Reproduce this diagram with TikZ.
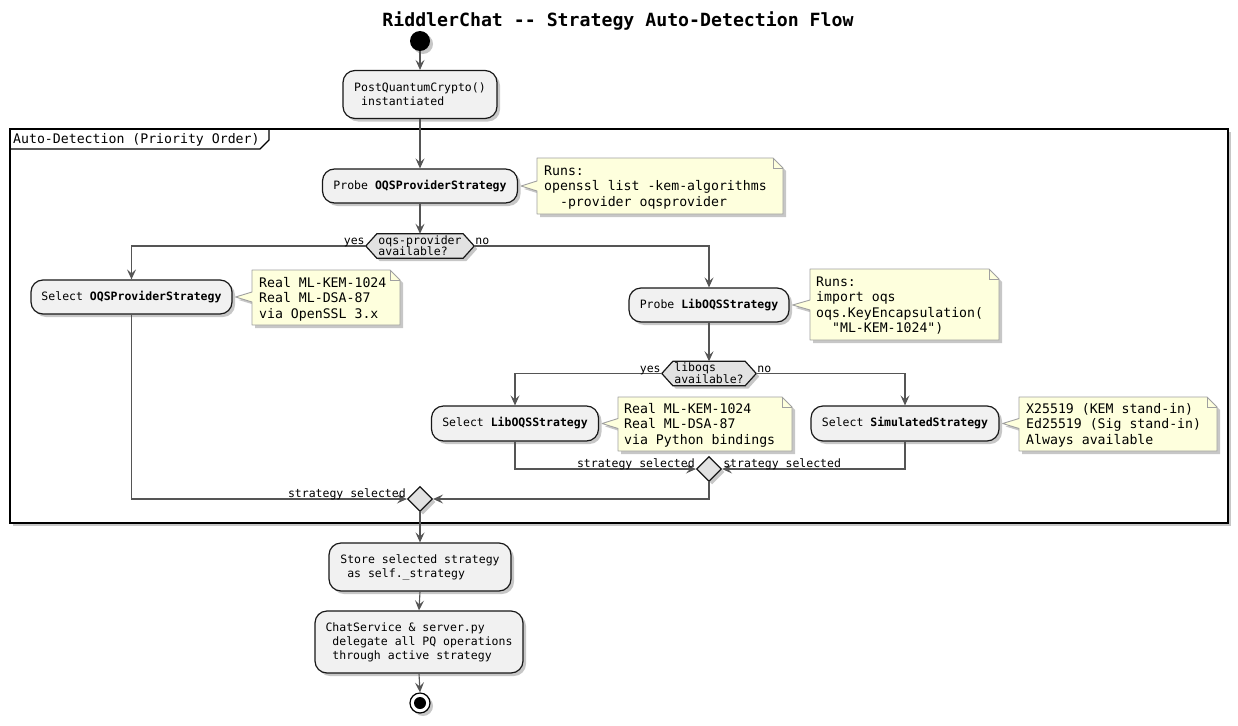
\documentclass[tikz,border=0pt]{standalone}
\usepackage{fontspec}
\setmonofont{DejaVu Sans Mono}
\usetikzlibrary{arrows.meta,shapes.geometric,shadows,calc}
\definecolor{boxfill}{HTML}{F1F1F1}
\definecolor{boxline}{HTML}{181818}
\definecolor{conncol}{HTML}{555555}
\definecolor{hexfill}{HTML}{E2E2E2}
\definecolor{notefill}{HTML}{FEFFDD}
\definecolor{noteline}{HTML}{A0A0A0}
\begin{document}
\begin{tikzpicture}[x=1pt,y=-1pt,
  shad/.style={drop shadow={shadow xshift=3pt,shadow yshift=-3pt,opacity=0.22,fill=black}},
  act/.style={draw=boxline,line width=1.2pt,fill=boxfill,rounded corners=12pt,inner sep=0pt,align=left,
    font=\ttfamily\fontsize{11.5}{14}\selectfont,shad},
  flow/.style={draw=conncol,line width=1.1pt,-{Stealth[length=10pt,width=9pt,inset=4pt,fill=conncol]}},
  plain/.style={draw=conncol,line width=1.1pt},
  hexst/.style={draw=boxline,line width=1.2pt,fill=hexfill,shad},
  hexbox/.style={inner sep=0pt,minimum height=24pt},
  hextext/.style={inner sep=0pt,align=left,font=\ttfamily\fontsize{11.5}{11.5}\selectfont},
  lbl/.style={inner sep=0pt,font=\ttfamily\fontsize{11.5}{14}\selectfont},
  notest/.style={draw=noteline,line width=0.9pt,fill=notefill,line join=round,shad},
  notefold/.style={draw=noteline,line width=0.9pt},
  notetext/.style={anchor=north west,inner sep=0pt,align=left,font=\ttfamily\fontsize{13.2}{15.5}\selectfont},
  merge/.style={diamond,draw=boxline,line width=1.2pt,fill=hexfill,minimum width=25pt,minimum height=25pt,inner sep=0pt,shad}
]
\fill[white] (0,0) rectangle (1238,725);
\path[use as bounding box] (0,0) rectangle (1238,725);

% title
\node[inner sep=0pt,anchor=base,font=\ttfamily\bfseries\fontsize{18.2}{20}\selectfont] (title) at (618,27) {RiddlerChat -{}- Strategy Auto-Detection Flow};

% frame
\path[draw=black,line width=2pt,fill=white,shad] (10,129) rectangle (1228,523);
\draw[line width=1.2pt] (10,149) -- (260,149) -- (269,140) -- (269,129);
\node[inner sep=0pt,anchor=base west,font=\ttfamily\fontsize{13.2}{15}\selectfont] (framelbl) at (13,143.5) {Auto-Detection (Priority Order)};

% start / end
\node[circle,fill=black,minimum size=20pt,inner sep=0pt,shad] (start) at (420,41) {};
\node[circle,draw=black,line width=1.2pt,fill=white,minimum size=20pt,inner sep=0pt,shad] (end) at (420,703) {};
\fill[black] (end.center) circle[radius=6pt];

% activities
\node[act,minimum width=154pt,minimum height=48pt] (box1) at (420,94.5) {PostQuantumCrypto()\\~instantiated};
\node[act,minimum width=195pt,minimum height=34pt] (probe1) at (420,186) {Probe \textbf{OQSProviderStrategy}};
\node[act,minimum width=201pt,minimum height=34pt] (sel1) at (131.5,297) {Select \textbf{OQSProviderStrategy}};
\node[act,minimum width=160pt,minimum height=34pt] (probe2) at (709,305) {Probe \textbf{LibOQSStrategy}};
\node[act,minimum width=167pt,minimum height=35pt] (sel2) at (515,423.5) {Select \textbf{LibOQSStrategy}};
\node[act,minimum width=188pt,minimum height=35pt] (sel3) at (905,423.5) {Select \textbf{SimulatedStrategy}};
\node[act,minimum width=182pt,minimum height=48pt] (store) at (420,567) {Store selected strategy\\~as self.\_strategy};
\node[act,minimum width=208pt,minimum height=62pt] (chat) at (419,642) {ChatService \& server.py\\~delegate all PQ operations\\~through active strategy};

% decisions
\node[hexbox,minimum width=108pt] (d1) at (420,246) {};
\path[hexst] (d1.west) -- ($(d1.north west)+(11,0)$) -- ($(d1.north east)+(-11,0)$) -- (d1.east) -- ($(d1.south east)+(-11,0)$) -- ($(d1.south west)+(11,0)$) -- cycle;
\node[hextext] (d1t) at ($(d1.center)+(0,-0.5)$) {oqs-provider\\available?};
\node[hexbox,minimum width=94pt] (d2) at (709,373.5) {};
\path[hexst] (d2.west) -- ($(d2.north west)+(11,0)$) -- ($(d2.north east)+(-11,0)$) -- (d2.east) -- ($(d2.south east)+(-11,0)$) -- ($(d2.south west)+(11,0)$) -- cycle;
\node[hextext] (d2t) at ($(d2.center)+(0,-0.5)$) {liboqs~~~~\\available?};

% merges
\node[merge] (m2) at (709,469) {};
\node[merge] (m1) at (420,499) {};

% notes
\path[notest] (252,270) -- (390,270) -- (400,280) -- (400,325) -- (252,325) -- (252,302) -- ($(sel1.east)+(3,0)$) -- (252,292) -- cycle;
\draw[notefold] (390,270) -- (390,280) -- (400,280);
\node[notetext] (n1) at (259,276.5) {\rule{0pt}{10.5pt}Real ML-KEM-1024\\Real ML-DSA-87\\via OpenSSL 3.x};

\path[notest] (537,158) -- (773,158) -- (783,168) -- (783,214) -- (537,214) -- (537,191) -- ($(probe1.east)+(3,0)$) -- (537,181) -- cycle;
\draw[notefold] (773,158) -- (773,168) -- (783,168);
\node[notetext] (n2) at (544,164.5) {\rule{0pt}{10.5pt}Runs:\\openssl list -kem-algorithms\\~~-provider oqsprovider};

\path[notest] (810,269) -- (989,269) -- (999,279) -- (999,340) -- (810,340) -- (810,310) -- ($(probe2.east)+(3,0)$) -- (810,300) -- cycle;
\draw[notefold] (989,269) -- (989,279) -- (999,279);
\node[notetext] (n3) at (816,275.5) {\rule{0pt}{10.5pt}Runs:\\import oqs\\oqs.KeyEncapsulation(\\~~"ML-KEM-1024")};

\path[notest] (618,397) -- (782,397) -- (792,407) -- (792,451) -- (618,451) -- (618,428.5) -- ($(sel2.east)+(3,0)$) -- (618,418.5) -- cycle;
\draw[notefold] (782,397) -- (782,407) -- (792,407);
\node[notetext] (n4) at (624,402.5) {\rule{0pt}{10.5pt}Real ML-KEM-1024\\Real ML-DSA-87\\via Python bindings};

\path[notest] (1019,397) -- (1207,397) -- (1217,407) -- (1217,451) -- (1019,451) -- (1019,428.5) -- ($(sel3.east)+(3,0)$) -- (1019,418.5) -- cycle;
\draw[notefold] (1207,397) -- (1207,407) -- (1217,407);
\node[notetext] (n5) at (1026,402.5) {\rule{0pt}{10.5pt}X25519 (KEM stand-in)\\Ed25519 (Sig stand-in)\\Always available};

% connectors
\draw[flow] (start) -- (box1.north);
\draw[flow] (box1.south) -- (probe1.north);
\draw[flow] (probe1.south) -- (d1.north);
\draw[flow] (d1.west) -| (sel1.north);
\draw[flow] (d1.east) -| (probe2.north);
\draw[flow] (probe2.south) -- (d2.north);
\draw[flow] (d2.west) -| (sel2.north);
\draw[flow] (d2.east) -| (sel3.north);
\draw[flow] (sel2.south) |- (m2.west);
\draw[flow] (sel3.south) |- (m2.east);
\draw[flow] (sel1.south) |- (m1.west);
\draw[flow] (m2.south) |- (m1.east);
\draw[flow] (m1.south) -- (store.north);
\draw[flow] (store.south) -- (chat.north);
\draw[flow] (chat.south) -- (end.north);

% branch labels
\node[lbl,anchor=base east] (y1) at ($(d1.west)+(-1,-1.5)$) {yes};
\node[lbl,anchor=base west] (no1) at ($(d1.east)+(1,-1.5)$) {no};
\node[lbl,anchor=base east] (y2) at ($(d2.west)+(-1,-1.5)$) {yes};
\node[lbl,anchor=base west] (no2) at ($(d2.east)+(1,-1.5)$) {no};
\node[lbl,anchor=base east] (s1) at ($(m1.west)+(-1,-2)$) {strategy selected};
\node[lbl,anchor=base east] (s2) at ($(m2.west)+(-1,-2)$) {strategy selected};
\node[lbl,anchor=base west] (s3) at ($(m2.east)+(1,-2)$) {strategy selected};
\end{tikzpicture}
\end{document}
